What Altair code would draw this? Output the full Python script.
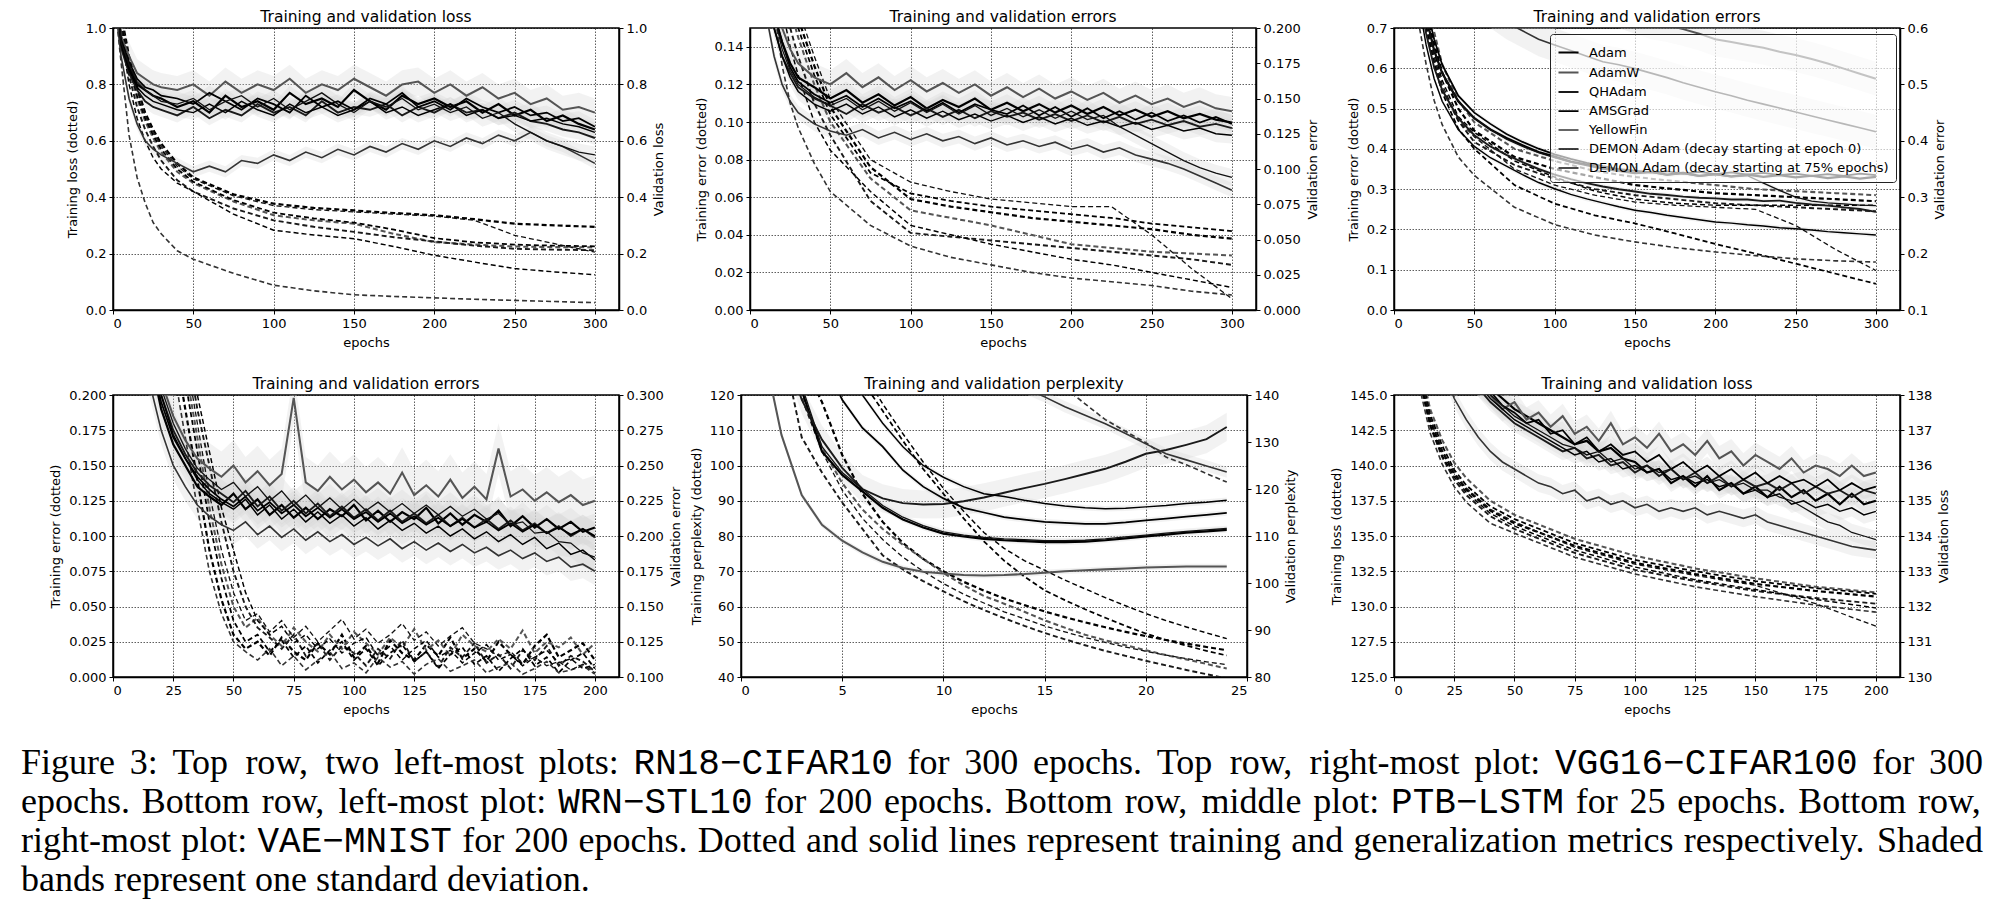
import altair as alt
import pandas as pd

# optimisers in legend order
OPT_KEYS = ["Adam", "AdamW", "QHAdam", "AMSGrad", "YF", "DEMON0", "DEMON75"]
OPT_LABELS = ["Adam", "AdamW", "QHAdam", "AMSGrad", "YellowFin",
              "DEMON Adam (decay starting at epoch 0)",
              "DEMON Adam (decay starting at 75% epochs)"]
OPT_GRAYS = ["#000000", "#555555", "#1a1a1a", "#000000", "#333333", "#000000", "#111111"]
OPT_WIDTHS = [2.2, 1.3, 1.7, 2.2, 1.3, 2.6, 1.4]

# ---------------- epochs ----------------
EP300_TRAIN = [1, 5, 10, 15, 20, 25, 30, 40, 50, 75, 100, 125, 150, 175, 200, 225, 250, 275, 300]
EP300_VAL = [1, 5, 10, 15, 20, 25, 30, 40, 50, 60, 70, 80, 90, 100, 110, 120, 130, 140, 150,
             160, 170, 180, 190, 200, 210, 220, 230, 240, 250, 260, 270, 280, 290, 300]
EP200 = [1, 5, 10, 15, 20, 25, 30, 35, 40, 45, 50, 55, 60, 65, 70, 75, 80, 85, 90, 95, 100,
         105, 110, 115, 120, 125, 130, 135, 140, 145, 150, 155, 160, 165, 170, 175, 180, 185,
         190, 195, 200]
EP200_TRAIN = [1, 5, 10, 15, 20, 25, 30, 40, 50, 75, 100, 125, 150, 175, 200]
EP25 = [1, 2, 3, 4, 5, 6, 7, 8, 9, 10, 11, 12, 13, 14, 15, 16, 17, 18, 19, 20, 21, 22, 23, 24]

# ---------------- RN18-CIFAR10 loss ----------------
P1_TRAIN = {
    "Adam": [1.30, 1.05, 0.90, 0.79, 0.70, 0.64, 0.59, 0.52, 0.47, 0.41, 0.377, 0.362, 0.353, 0.344, 0.336, 0.322, 0.306, 0.300, 0.295],
    "AdamW": [1.30, 1.02, 0.86, 0.75, 0.67, 0.61, 0.56, 0.49, 0.45, 0.385, 0.336, 0.318, 0.306, 0.27, 0.241, 0.232, 0.225, 0.223, 0.222],
    "QHAdam": [1.30, 1.00, 0.83, 0.72, 0.64, 0.58, 0.53, 0.46, 0.42, 0.36, 0.318, 0.295, 0.277, 0.258, 0.243, 0.228, 0.217, 0.214, 0.212],
    "AMSGrad": [1.30, 1.03, 0.87, 0.76, 0.68, 0.62, 0.57, 0.50, 0.455, 0.39, 0.345, 0.325, 0.31, 0.285, 0.255, 0.240, 0.232, 0.228, 0.226],
    "YF": [1.10, 0.88, 0.62, 0.47, 0.38, 0.31, 0.27, 0.21, 0.18, 0.13, 0.088, 0.068, 0.054, 0.048, 0.043, 0.038, 0.034, 0.030, 0.026],
    "DEMON0": [1.25, 0.98, 0.80, 0.68, 0.60, 0.54, 0.50, 0.45, 0.42, 0.34, 0.283, 0.266, 0.253, 0.225, 0.194, 0.17, 0.147, 0.135, 0.125],
    "DEMON75": [1.30, 1.04, 0.89, 0.78, 0.69, 0.63, 0.58, 0.51, 0.465, 0.405, 0.37, 0.356, 0.348, 0.34, 0.333, 0.318, 0.265, 0.235, 0.205],
}
P1_VAL = {
    "Adam": [1.20, 0.95, 0.86, 0.80, 0.78, 0.76, 0.75, 0.72, 0.74, 0.70, 0.76, 0.72, 0.74, 0.71, 0.77, 0.73, 0.75, 0.72, 0.78, 0.74, 0.71, 0.76, 0.73, 0.75, 0.72, 0.74, 0.70, 0.73, 0.69, 0.71, 0.67, 0.69, 0.66, 0.64],
    "AdamW": [1.20, 0.97, 0.90, 0.84, 0.82, 0.80, 0.79, 0.78, 0.80, 0.76, 0.81, 0.77, 0.80, 0.78, 0.82, 0.77, 0.80, 0.78, 0.82, 0.79, 0.76, 0.80, 0.81, 0.77, 0.80, 0.76, 0.79, 0.75, 0.77, 0.73, 0.75, 0.71, 0.72, 0.70],
    "QHAdam": [1.20, 0.93, 0.84, 0.78, 0.74, 0.72, 0.71, 0.69, 0.72, 0.68, 0.71, 0.69, 0.73, 0.70, 0.72, 0.69, 0.74, 0.70, 0.72, 0.71, 0.73, 0.69, 0.72, 0.70, 0.73, 0.70, 0.71, 0.68, 0.70, 0.67, 0.66, 0.64, 0.63, 0.61],
    "AMSGrad": [1.20, 0.96, 0.88, 0.82, 0.79, 0.78, 0.76, 0.75, 0.73, 0.77, 0.74, 0.71, 0.75, 0.73, 0.70, 0.76, 0.72, 0.74, 0.71, 0.75, 0.73, 0.77, 0.72, 0.74, 0.71, 0.75, 0.72, 0.70, 0.72, 0.69, 0.70, 0.67, 0.68, 0.65],
    "YF": [1.10, 0.90, 0.75, 0.66, 0.60, 0.57, 0.55, 0.52, 0.49, 0.51, 0.49, 0.53, 0.52, 0.55, 0.53, 0.56, 0.54, 0.57, 0.55, 0.58, 0.56, 0.59, 0.57, 0.60, 0.58, 0.61, 0.59, 0.62, 0.60, 0.63, 0.60, 0.58, 0.55, 0.52],
    "DEMON0": [1.20, 0.94, 0.85, 0.79, 0.76, 0.74, 0.73, 0.71, 0.70, 0.73, 0.70, 0.74, 0.71, 0.69, 0.73, 0.70, 0.72, 0.69, 0.71, 0.74, 0.70, 0.72, 0.69, 0.71, 0.73, 0.69, 0.71, 0.68, 0.69, 0.67, 0.68, 0.66, 0.65, 0.63],
    "DEMON75": [1.20, 0.95, 0.87, 0.81, 0.78, 0.76, 0.74, 0.73, 0.75, 0.71, 0.74, 0.76, 0.72, 0.75, 0.71, 0.74, 0.77, 0.73, 0.70, 0.74, 0.72, 0.75, 0.71, 0.73, 0.70, 0.72, 0.68, 0.70, 0.66, 0.63, 0.60, 0.58, 0.56, 0.55],
}
P1_SD = {"Adam": 0.025, "AdamW": 0.05, "QHAdam": 0.025, "AMSGrad": 0.025, "YF": 0.02, "DEMON0": 0.025, "DEMON75": 0.03}

# ---------------- RN18-CIFAR10 errors ----------------
P2_TRAIN = {
    "Adam": [0.60, 0.38, 0.27, 0.22, 0.19, 0.17, 0.155, 0.13, 0.108, 0.076, 0.059, 0.055, 0.052, 0.049, 0.047, 0.045, 0.043, 0.040, 0.038],
    "AdamW": [0.60, 0.37, 0.26, 0.21, 0.18, 0.16, 0.145, 0.12, 0.10, 0.07, 0.053, 0.049, 0.045, 0.04, 0.035, 0.033, 0.031, 0.030, 0.029],
    "QHAdam": [0.60, 0.36, 0.25, 0.20, 0.17, 0.15, 0.135, 0.11, 0.093, 0.058, 0.041, 0.039, 0.037, 0.035, 0.033, 0.031, 0.029, 0.027, 0.024],
    "AMSGrad": [0.60, 0.38, 0.27, 0.22, 0.185, 0.165, 0.15, 0.125, 0.104, 0.073, 0.062, 0.058, 0.055, 0.053, 0.051, 0.049, 0.046, 0.044, 0.042],
    "YF": [0.60, 0.32, 0.21, 0.16, 0.13, 0.11, 0.097, 0.078, 0.063, 0.045, 0.034, 0.028, 0.024, 0.020, 0.017, 0.015, 0.013, 0.010, 0.008],
    "DEMON0": [0.60, 0.35, 0.24, 0.19, 0.16, 0.14, 0.125, 0.10, 0.085, 0.063, 0.045, 0.040, 0.035, 0.031, 0.027, 0.024, 0.020, 0.016, 0.012],
    "DEMON75": [0.60, 0.39, 0.28, 0.23, 0.195, 0.175, 0.16, 0.135, 0.112, 0.08, 0.068, 0.063, 0.059, 0.057, 0.055, 0.055, 0.040, 0.022, 0.006],
}
P2_VAL = {
    "Adam": [0.40, 0.30, 0.24, 0.21, 0.19, 0.175, 0.165, 0.158, 0.150, 0.156, 0.147, 0.153, 0.145, 0.151, 0.143, 0.149, 0.144, 0.150, 0.142, 0.147, 0.141, 0.146, 0.140, 0.145, 0.139, 0.144, 0.138, 0.142, 0.137, 0.141, 0.136, 0.139, 0.135, 0.133],
    "AdamW": [0.40, 0.31, 0.25, 0.22, 0.20, 0.185, 0.175, 0.165, 0.160, 0.168, 0.158, 0.165, 0.156, 0.163, 0.155, 0.161, 0.154, 0.160, 0.152, 0.158, 0.151, 0.157, 0.150, 0.155, 0.149, 0.154, 0.147, 0.152, 0.146, 0.150, 0.144, 0.148, 0.143, 0.141],
    "QHAdam": [0.40, 0.29, 0.23, 0.20, 0.18, 0.168, 0.158, 0.150, 0.145, 0.139, 0.146, 0.140, 0.144, 0.138, 0.143, 0.137, 0.142, 0.136, 0.141, 0.137, 0.140, 0.135, 0.139, 0.134, 0.138, 0.133, 0.137, 0.132, 0.135, 0.131, 0.134, 0.130, 0.132, 0.129],
    "AMSGrad": [0.40, 0.30, 0.24, 0.21, 0.19, 0.172, 0.162, 0.153, 0.147, 0.152, 0.144, 0.150, 0.143, 0.148, 0.141, 0.147, 0.140, 0.146, 0.142, 0.139, 0.145, 0.138, 0.144, 0.137, 0.143, 0.136, 0.141, 0.135, 0.140, 0.134, 0.138, 0.133, 0.137, 0.132],
    "YF": [0.40, 0.27, 0.21, 0.18, 0.16, 0.148, 0.140, 0.132, 0.127, 0.124, 0.128, 0.122, 0.126, 0.121, 0.125, 0.120, 0.123, 0.118, 0.122, 0.117, 0.120, 0.116, 0.119, 0.114, 0.117, 0.112, 0.115, 0.110, 0.107, 0.104, 0.100, 0.095, 0.090, 0.085],
    "DEMON0": [0.40, 0.29, 0.23, 0.20, 0.18, 0.165, 0.155, 0.146, 0.141, 0.146, 0.139, 0.144, 0.137, 0.142, 0.136, 0.141, 0.135, 0.139, 0.134, 0.138, 0.133, 0.137, 0.132, 0.136, 0.131, 0.134, 0.130, 0.133, 0.128, 0.131, 0.127, 0.129, 0.125, 0.124],
    "DEMON75": [0.40, 0.30, 0.24, 0.21, 0.185, 0.17, 0.16, 0.151, 0.145, 0.150, 0.142, 0.148, 0.141, 0.147, 0.140, 0.146, 0.139, 0.145, 0.138, 0.143, 0.137, 0.142, 0.136, 0.141, 0.135, 0.138, 0.130, 0.124, 0.118, 0.112, 0.106, 0.101, 0.097, 0.094],
}
P2_SD = {"Adam": 0.006, "AdamW": 0.01, "QHAdam": 0.006, "AMSGrad": 0.006, "YF": 0.005, "DEMON0": 0.006, "DEMON75": 0.006}

# ---------------- VGG16-CIFAR100 errors ----------------
P3_TRAIN = {
    "Adam": [0.99, 0.97, 0.92, 0.84, 0.75, 0.66, 0.59, 0.50, 0.445, 0.38, 0.35, 0.33, 0.31, 0.30, 0.29, 0.285, 0.28, 0.275, 0.27],
    "AdamW": [0.99, 0.97, 0.93, 0.86, 0.77, 0.69, 0.61, 0.52, 0.466, 0.40, 0.37, 0.345, 0.33, 0.32, 0.31, 0.30, 0.295, 0.29, 0.285],
    "QHAdam": [0.99, 0.96, 0.90, 0.81, 0.71, 0.62, 0.55, 0.47, 0.417, 0.36, 0.326, 0.30, 0.285, 0.275, 0.265, 0.26, 0.255, 0.25, 0.245],
    "AMSGrad": [0.99, 0.96, 0.89, 0.80, 0.70, 0.61, 0.54, 0.45, 0.40, 0.31, 0.264, 0.235, 0.215, 0.19, 0.164, 0.14, 0.115, 0.09, 0.065],
    "YF": [0.99, 0.95, 0.85, 0.72, 0.61, 0.52, 0.46, 0.38, 0.334, 0.255, 0.212, 0.186, 0.169, 0.155, 0.144, 0.135, 0.127, 0.122, 0.119],
    "DEMON0": [0.99, 0.97, 0.91, 0.83, 0.73, 0.64, 0.57, 0.48, 0.441, 0.37, 0.33, 0.295, 0.275, 0.265, 0.26, 0.26, 0.26, 0.26, 0.26],
    "DEMON75": [0.99, 0.96, 0.91, 0.82, 0.72, 0.63, 0.56, 0.47, 0.43, 0.35, 0.31, 0.285, 0.268, 0.26, 0.255, 0.25, 0.21, 0.15, 0.098],
}
P3_VAL = {
    "Adam": [0.95, 0.90, 0.80, 0.70, 0.62, 0.56, 0.52, 0.47, 0.44, 0.42, 0.405, 0.392, 0.380, 0.372, 0.363, 0.358, 0.351, 0.348, 0.343, 0.345, 0.340, 0.343, 0.338, 0.341, 0.337, 0.340, 0.336, 0.339, 0.335, 0.338, 0.334, 0.337, 0.333, 0.336],
    "AdamW": [0.99, 0.99, 0.97, 0.95, 0.92, 0.89, 0.86, 0.82, 0.79, 0.76, 0.74, 0.72, 0.70, 0.68, 0.665, 0.65, 0.64, 0.63, 0.62, 0.61, 0.605, 0.598, 0.59, 0.58, 0.575, 0.57, 0.565, 0.558, 0.552, 0.545, 0.537, 0.528, 0.519, 0.51],
    "QHAdam": [0.95, 0.88, 0.77, 0.67, 0.59, 0.53, 0.49, 0.44, 0.41, 0.39, 0.375, 0.362, 0.350, 0.340, 0.332, 0.325, 0.319, 0.314, 0.310, 0.306, 0.304, 0.301, 0.299, 0.298, 0.296, 0.296, 0.293, 0.294, 0.290, 0.287, 0.285, 0.282, 0.279, 0.274],
    "AMSGrad": [0.95, 0.91, 0.82, 0.72, 0.64, 0.58, 0.535, 0.48, 0.45, 0.43, 0.412, 0.398, 0.386, 0.376, 0.368, 0.361, 0.355, 0.350, 0.347, 0.344, 0.346, 0.342, 0.345, 0.341, 0.344, 0.340, 0.343, 0.339, 0.342, 0.338, 0.341, 0.338, 0.342, 0.339],
    "YF": [0.99, 0.98, 0.95, 0.90, 0.85, 0.80, 0.76, 0.70, 0.66, 0.63, 0.61, 0.595, 0.58, 0.57, 0.56, 0.55, 0.54, 0.535, 0.528, 0.52, 0.512, 0.503, 0.495, 0.487, 0.48, 0.472, 0.465, 0.458, 0.451, 0.444, 0.437, 0.43, 0.423, 0.416],
    "DEMON0": [0.95, 0.87, 0.75, 0.65, 0.57, 0.51, 0.47, 0.42, 0.39, 0.37, 0.355, 0.34, 0.326, 0.315, 0.305, 0.297, 0.29, 0.283, 0.277, 0.273, 0.268, 0.264, 0.26, 0.256, 0.254, 0.251, 0.249, 0.246, 0.244, 0.242, 0.239, 0.237, 0.235, 0.233],
    "DEMON75": [0.95, 0.90, 0.80, 0.70, 0.62, 0.56, 0.52, 0.47, 0.44, 0.42, 0.403, 0.39, 0.379, 0.37, 0.362, 0.356, 0.35, 0.346, 0.342, 0.344, 0.339, 0.342, 0.337, 0.340, 0.336, 0.338, 0.325, 0.312, 0.300, 0.293, 0.290, 0.288, 0.286, 0.285],
}
P3_SD = {"Adam": 0.004, "AdamW": 0.03, "QHAdam": 0.004, "AMSGrad": 0.004, "YF": 0.03, "DEMON0": 0.004, "DEMON75": 0.004}

# ---------------- WRN-STL10 errors ----------------
P4_TRAIN = {
    "Adam": [0.90, 0.70, 0.50, 0.38, 0.30, 0.24, 0.19, 0.14, 0.09, 0.055, 0.03, 0.02, 0.025, 0.015, 0.028, 0.018, 0.012, 0.024, 0.016, 0.030, 0.014, 0.022, 0.010, 0.026, 0.017, 0.012, 0.023, 0.015, 0.028, 0.013, 0.020, 0.011, 0.025, 0.016, 0.009, 0.022, 0.030, 0.014, 0.019, 0.024, 0.012],
    "AdamW": [0.90, 0.72, 0.53, 0.41, 0.33, 0.27, 0.22, 0.17, 0.12, 0.08, 0.05, 0.035, 0.042, 0.03, 0.022, 0.035, 0.025, 0.018, 0.03, 0.02, 0.032, 0.024, 0.016, 0.028, 0.021, 0.034, 0.019, 0.026, 0.015, 0.03, 0.022, 0.018, 0.027, 0.02, 0.033, 0.017, 0.025, 0.021, 0.028, 0.016, 0.024],
    "QHAdam": [0.90, 0.72, 0.54, 0.43, 0.35, 0.29, 0.24, 0.19, 0.15, 0.11, 0.075, 0.05, 0.035, 0.028, 0.02, 0.03, 0.015, 0.024, 0.012, 0.022, 0.017, 0.008, 0.02, 0.013, 0.026, 0.011, 0.018, 0.007, 0.021, 0.014, 0.024, 0.01, 0.016, 0.006, 0.019, 0.012, 0.022, 0.008, 0.015, 0.011, 0.004],
    "AMSGrad": [0.90, 0.71, 0.52, 0.40, 0.32, 0.26, 0.21, 0.16, 0.11, 0.07, 0.04, 0.025, 0.03, 0.018, 0.026, 0.014, 0.022, 0.01, 0.019, 0.025, 0.012, 0.02, 0.008, 0.017, 0.023, 0.011, 0.018, 0.006, 0.016, 0.021, 0.009, 0.015, 0.004, 0.013, 0.02, 0.008, 0.014, 0.003, 0.012, 0.017, 0.006],
    "YF": [0.90, 0.68, 0.48, 0.36, 0.28, 0.22, 0.17, 0.12, 0.075, 0.045, 0.025, 0.018, 0.012, 0.02, 0.008, 0.015, 0.005, 0.012, 0.018, 0.006, 0.01, 0.003, 0.014, 0.007, 0.011, 0.002, 0.009, 0.013, 0.004, 0.008, 0.012, 0.003, 0.007, 0.01, 0.002, 0.006, 0.011, 0.003, 0.005, 0.008, 0.002],
    "DEMON0": [0.90, 0.73, 0.55, 0.44, 0.36, 0.30, 0.25, 0.20, 0.16, 0.12, 0.09, 0.06, 0.04, 0.03, 0.036, 0.024, 0.03, 0.02, 0.027, 0.017, 0.024, 0.028, 0.015, 0.022, 0.012, 0.02, 0.026, 0.014, 0.019, 0.01, 0.017, 0.023, 0.012, 0.016, 0.008, 0.014, 0.019, 0.01, 0.013, 0.006, 0.009],
    "DEMON75": [0.90, 0.72, 0.54, 0.42, 0.34, 0.28, 0.23, 0.18, 0.13, 0.09, 0.06, 0.04, 0.045, 0.032, 0.04, 0.028, 0.036, 0.025, 0.033, 0.041, 0.027, 0.034, 0.024, 0.03, 0.038, 0.026, 0.032, 0.022, 0.029, 0.035, 0.024, 0.02, 0.015, 0.018, 0.01, 0.014, 0.008, 0.011, 0.005, 0.009, 0.003],
}
P4_VAL = {
    "Adam": [0.60, 0.50, 0.40, 0.33, 0.29, 0.265, 0.25, 0.235, 0.228, 0.222, 0.230, 0.219, 0.226, 0.215, 0.222, 0.213, 0.220, 0.212, 0.219, 0.214, 0.222, 0.211, 0.218, 0.210, 0.217, 0.212, 0.220, 0.209, 0.216, 0.208, 0.215, 0.210, 0.218, 0.207, 0.214, 0.206, 0.212, 0.205, 0.210, 0.203, 0.206],
    "AdamW": [0.60, 0.52, 0.42, 0.35, 0.31, 0.285, 0.268, 0.255, 0.248, 0.242, 0.250, 0.238, 0.246, 0.236, 0.244, 0.298, 0.238, 0.232, 0.242, 0.233, 0.240, 0.231, 0.238, 0.230, 0.245, 0.229, 0.236, 0.228, 0.240, 0.227, 0.235, 0.226, 0.262, 0.228, 0.233, 0.225, 0.231, 0.224, 0.229, 0.222, 0.225],
    "QHAdam": [0.60, 0.51, 0.41, 0.34, 0.30, 0.275, 0.258, 0.245, 0.236, 0.230, 0.224, 0.232, 0.221, 0.228, 0.218, 0.225, 0.216, 0.223, 0.214, 0.221, 0.213, 0.219, 0.211, 0.218, 0.210, 0.216, 0.209, 0.215, 0.207, 0.213, 0.206, 0.212, 0.205, 0.211, 0.204, 0.209, 0.202, 0.207, 0.200, 0.205, 0.199],
    "AMSGrad": [0.60, 0.50, 0.40, 0.33, 0.295, 0.27, 0.255, 0.242, 0.233, 0.226, 0.221, 0.228, 0.218, 0.224, 0.216, 0.222, 0.214, 0.220, 0.213, 0.219, 0.212, 0.217, 0.210, 0.216, 0.209, 0.214, 0.208, 0.213, 0.207, 0.212, 0.206, 0.210, 0.204, 0.209, 0.203, 0.208, 0.202, 0.206, 0.201, 0.205, 0.200],
    "YF": [0.60, 0.48, 0.38, 0.31, 0.275, 0.25, 0.235, 0.222, 0.214, 0.208, 0.204, 0.210, 0.201, 0.207, 0.199, 0.205, 0.197, 0.203, 0.196, 0.201, 0.194, 0.199, 0.193, 0.198, 0.191, 0.196, 0.190, 0.195, 0.189, 0.194, 0.188, 0.192, 0.186, 0.190, 0.184, 0.188, 0.182, 0.185, 0.178, 0.180, 0.175],
    "DEMON0": [0.60, 0.50, 0.41, 0.34, 0.30, 0.272, 0.255, 0.240, 0.230, 0.224, 0.219, 0.226, 0.215, 0.222, 0.212, 0.219, 0.210, 0.217, 0.209, 0.215, 0.207, 0.213, 0.205, 0.211, 0.204, 0.209, 0.202, 0.207, 0.200, 0.205, 0.198, 0.203, 0.196, 0.201, 0.194, 0.199, 0.191, 0.195, 0.187, 0.190, 0.183],
    "DEMON75": [0.60, 0.51, 0.42, 0.35, 0.305, 0.28, 0.262, 0.248, 0.240, 0.233, 0.238, 0.228, 0.235, 0.225, 0.232, 0.222, 0.229, 0.220, 0.227, 0.219, 0.226, 0.218, 0.224, 0.217, 0.223, 0.216, 0.222, 0.215, 0.221, 0.214, 0.219, 0.212, 0.216, 0.208, 0.210, 0.202, 0.203, 0.196, 0.195, 0.188, 0.185],
}
P4_SD = {"Adam": 0.01, "AdamW": 0.018, "QHAdam": 0.01, "AMSGrad": 0.01, "YF": 0.01, "DEMON0": 0.01, "DEMON75": 0.01}

# ---------------- PTB-LSTM perplexity ----------------
P5_TRAIN = {
    "Adam": [175, 150, 130, 118, 103, 92, 84, 78, 73.5, 70, 67, 64.5, 62.3, 60.4, 58.6, 57, 55.5, 54.1, 52.8, 51.6, 50.5, 49.5, 48.5, 47.6],
    "AdamW": [170, 140, 120, 105, 95, 87.5, 82, 77.5, 73.5, 69.5, 66, 63, 60.8, 58.5, 56.1, 54, 52, 50.4, 49, 47.6, 46.2, 45, 43.7, 42.4],
    "QHAdam": [160, 135, 108, 98, 89.5, 82, 74.5, 70.5, 67.2, 64.3, 61.5, 59, 56.7, 54.5, 52.5, 50.7, 49, 47.4, 46, 44.6, 43.3, 42, 40.8, 39.6],
    "AMSGrad": [200, 185, 168, 150, 136, 124, 115.5, 107, 99, 92, 85, 78.5, 73, 68.5, 64.6, 61.8, 59.2, 56.8, 54.5, 52.3, 50.5, 48.9, 47.4, 46.1],
    "YF": [300, 280, 262, 245, 230, 216, 204, 192, 181, 170, 158, 150, 142, 135, 128, 122, 117.5, 113, 109.7, 106.5, 102.4, 100.2, 97.7, 95.3],
    "DEMON0": [198, 182, 166, 150, 138, 127, 117.5, 109, 101, 93.5, 87, 81, 76.5, 73, 70.3, 67.5, 65, 62.5, 60.2, 58, 56, 54.2, 52.5, 50.9],
    "DEMON75": [165, 138, 119, 104, 93, 85, 79, 74, 70, 66.5, 63.5, 61, 58.5, 56.5, 54.5, 52.8, 51.2, 49.8, 48.5, 47.3, 46.2, 45.2, 44.3, 43.5],
}
P5_VAL = {
    "Adam": [175, 158, 141, 128, 123, 119.5, 116, 113.5, 111.8, 110.5, 109.9, 109.4, 109.1, 108.9, 108.7, 108.7, 108.8, 109.1, 109.5, 109.9, 110.3, 110.7, 111, 111.3],
    "AdamW": [152, 131.5, 118.7, 112.4, 109, 106.5, 104.5, 103.2, 102.4, 102, 101.7, 101.6, 101.7, 101.9, 102.2, 102.5, 102.7, 102.9, 103.1, 103.3, 103.4, 103.5, 103.5, 103.5],
    "QHAdam": [165, 152, 139, 130.5, 124.5, 120, 118, 117, 116.7, 116.8, 117.4, 118.2, 119.2, 120.2, 121.1, 122.1, 123.2, 124.3, 125.8, 127.5, 128.3, 129.4, 130.6, 133.2],
    "AMSGrad": [190, 175, 160, 148, 139, 133, 129, 124, 120.5, 118, 116, 115, 114, 113.5, 113, 112.8, 112.6, 112.6, 112.9, 113.3, 113.7, 114.1, 114.5, 114.9],
    "YF": [260, 240, 222, 206, 192, 180, 170, 162, 156, 151, 147, 144.5, 143, 141.5, 139.6, 137.5, 135.7, 133.9, 131.8, 129.6, 127.5, 126.2, 124.9, 123.6],
    "DEMON0": [200, 185, 170, 158, 148, 140, 134, 129, 125, 122.5, 120.5, 119, 118.4, 117.6, 116.9, 116.4, 116, 115.8, 115.9, 116.2, 116.5, 116.9, 117.2, 117.6],
    "DEMON75": [176, 159, 142, 129, 123.5, 120, 116.5, 114, 112.2, 110.9, 110.2, 109.7, 109.4, 109.2, 109.0, 109.0, 109.1, 109.4, 109.8, 110.2, 110.6, 111.0, 111.3, 111.6],
}
P5_SD = {"Adam": 0.6, "AdamW": 0.6, "QHAdam": 3.0, "AMSGrad": 0.6, "YF": 1.2, "DEMON0": 0.6, "DEMON75": 0.6}

# ---------------- VAE-MNIST loss ----------------
P6_TRAIN = {
    "Adam": [175, 151, 147.0, 143.2, 141.0, 139.4, 138.3, 136.8, 135.9, 134.3, 133.1, 132.3, 131.6, 131.1, 130.7],
    "AdamW": [175, 152, 147.8, 144.0, 141.8, 140.2, 139.1, 137.5, 136.5, 134.8, 133.6, 132.7, 132.0, 131.4, 131.0],
    "QHAdam": [175, 150, 146.5, 142.8, 140.6, 139.0, 137.9, 136.4, 135.5, 133.8, 132.6, 131.8, 131.1, 130.6, 130.2],
    "AMSGrad": [175, 151, 147.4, 143.6, 141.4, 139.7, 138.6, 137.1, 136.2, 134.5, 133.3, 132.5, 131.8, 131.3, 130.9],
    "YF": [175, 149, 146.0, 142.3, 140.1, 138.5, 137.4, 135.9, 135.2, 133.5, 132.3, 131.4, 130.7, 130.1, 129.6],
    "DEMON0": [175, 150, 146.7, 142.9, 140.7, 139.2, 138.1, 136.6, 135.7, 134.0, 132.8, 131.9, 131.2, 130.5, 129.9],
    "DEMON75": [175, 151, 147.2, 143.4, 141.1, 139.5, 138.4, 136.9, 136.0, 134.2, 133.0, 132.2, 131.5, 130.2, 128.6],
}
P6_VAL = {
    "Adam": [150, 146, 143, 141.5, 140.3, 139.5, 138.9, 138.5, 138.2, 137.9, 137.6, 137.4, 137.2, 137.0, 136.8, 136.6, 136.7, 136.4, 136.5, 136.2, 136.1, 135.8, 135.9, 135.5, 135.7, 135.4, 135.7, 135.3, 135.5, 135.2, 135.4, 135.1, 135.4, 135.1, 135.3, 135.0, 135.2, 134.9, 135.2, 134.9, 135.0],
    "AdamW": [151, 147, 144, 142, 140.5, 139.6, 139.0, 138.3, 138.0, 137.6, 137.8, 137.3, 137.5, 137.1, 137.4, 136.9, 137.1, 136.7, 137.2, 136.6, 136.8, 136.5, 136.9, 136.4, 136.6, 136.3, 136.7, 136.2, 136.4, 136.0, 136.3, 136.1, 135.9, 136.2, 135.8, 136.0, 135.9, 135.7, 136.0, 135.7, 135.8],
    "QHAdam": [150, 146, 143, 141.3, 140.1, 139.3, 138.7, 138.2, 137.8, 137.5, 137.2, 137.0, 136.8, 136.6, 136.4, 136.5, 136.2, 136.3, 136.0, 136.1, 135.8, 136.0, 135.7, 135.9, 135.6, 135.8, 135.5, 135.7, 135.4, 135.6, 135.4, 135.5, 135.3, 135.5, 135.2, 135.4, 135.2, 135.3, 135.1, 135.3, 135.2],
    "AMSGrad": [150, 146, 143, 141.6, 140.4, 139.6, 139.0, 138.5, 138.1, 137.7, 137.5, 137.2, 137.3, 136.9, 137.0, 136.6, 136.8, 136.4, 136.6, 136.3, 136.4, 136.1, 136.3, 135.9, 136.1, 135.8, 136.0, 135.7, 135.9, 135.6, 135.8, 135.5, 135.7, 135.5, 135.6, 135.4, 135.6, 135.3, 135.5, 135.3, 135.4],
    "YF": [149, 145, 142, 140, 138.8, 137.9, 137.3, 136.8, 136.4, 136.1, 135.9, 135.7, 135.5, 135.4, 135.2, 135.3, 135.0, 135.1, 134.9, 135.0, 134.8, 134.9, 134.7, 134.8, 134.7, 134.8, 134.6, 134.7, 134.6, 134.5, 134.6, 134.4, 134.3, 134.2, 134.1, 134.0, 133.9, 133.8, 133.7, 133.65, 133.6],
    "DEMON0": [150, 146, 143, 141.4, 140.2, 139.4, 138.8, 138.3, 137.9, 137.6, 137.3, 137.1, 136.9, 136.7, 136.5, 136.3, 136.4, 136.1, 136.2, 135.9, 136.0, 135.8, 135.9, 135.6, 135.7, 135.5, 135.6, 135.4, 135.5, 135.2, 135.3, 135.1, 135.2, 134.9, 135.0, 134.8, 134.9, 134.7, 134.8, 134.6, 134.7],
    "DEMON75": [150, 146, 143, 141.5, 140.3, 139.5, 138.9, 138.4, 138.0, 137.7, 137.4, 137.2, 137.0, 136.8, 136.6, 136.5, 136.3, 136.4, 136.1, 136.2, 135.9, 136.0, 135.8, 135.9, 135.6, 135.7, 135.5, 135.6, 135.4, 135.5, 135.3, 135.3, 135.1, 135.0, 134.8, 134.6, 134.4, 134.3, 134.1, 134.0, 133.9],
}
P6_SD = {"Adam": 0.25, "AdamW": 0.35, "QHAdam": 0.25, "AMSGrad": 0.25, "YF": 0.25, "DEMON0": 0.25, "DEMON75": 0.25}

# ---------------- caption: lines, `...` = typewriter ----------------
CAPTION_LINES = [
    "Figure 3: Top row, two left-most plots: `RN18\u2212CIFAR10` for 300 epochs. Top row, right-most plot: `VGG16\u2212CIFAR100` for 300",
    "epochs. Bottom row, left-most plot: `WRN\u2212STL10` for 200 epochs. Bottom row, middle plot: `PTB\u2212LSTM` for 25 epochs. Bottom row,",
    "right-most plot: `VAE\u2212MNIST` for 200 epochs. Dotted and solid lines represent training and generalization metrics respectively. Shaded",
    "bands represent one standard deviation.",
]
CAP_BASELINES = [772, 811, 850, 889]   # page y of each baseline
CAP_LEFT, CAP_RIGHT = 20, 1982          # justified text block
CAP_SIZE = 36
CAP_X0 = 112   # page x of the caption view origin (= left plot edge)
CAP_Y0 = 741   # page y of the caption view top

# Times advance widths (per 1000 em), used to justify the caption lines
TIMES_W = dict(zip(
    "ABCDEFGHIJKLMNOPQRSTUVWXYZabcdefghijklmnopqrstuvwxyz0123456789,.:-()%",
    [722, 667, 667, 722, 611, 556, 722, 722, 333, 389, 722, 611, 889, 722, 722, 556, 722,
     667, 556, 611, 722, 722, 944, 722, 722, 611,
     444, 500, 444, 500, 444, 333, 500, 500, 278, 278, 500, 278, 778, 500, 500, 500, 500,
     333, 389, 278, 500, 500, 722, 500, 500, 444,
     500, 500, 500, 500, 500, 500, 500, 500, 500, 500,
     250, 250, 278, 333, 333, 333, 833]))

PANEL_W = 506
PANEL_H = 282


def long_table(epochs, series, sd=None):
    rows = []
    for key, label in zip(OPT_KEYS, OPT_LABELS):
        vals = series[key]
        assert len(vals) == len(epochs), (key, len(vals), len(epochs))
        for e, v in zip(epochs, vals):
            row = {"epoch": e, "value": v, "opt": label}
            if sd is not None:
                row["sd"] = sd[key]
            rows.append(row)
    return pd.DataFrame(rows)


def panel(title, ep_train, train, ep_val, val, sd, xdom, xticks,
          ldom, lticks, lfmt, ltitle, rdom, rticks, rfmt, rtitle,
          legend=None, reach_left=None):
    x = alt.X("epoch:Q", scale=alt.Scale(domain=xdom, nice=False, zero=False),
              axis=alt.Axis(values=xticks, format="d", title="epochs", grid=True))
    color = alt.Color("opt:N", scale=alt.Scale(domain=OPT_LABELS, range=OPT_GRAYS),
                      legend=legend)
    width = alt.StrokeWidth("opt:N", scale=alt.Scale(domain=OPT_LABELS, range=OPT_WIDTHS),
                            legend=None)
    rscale = alt.Scale(domain=rdom, nice=False, zero=False)

    vdf = long_table(ep_val, val, sd)
    tdf = long_table(ep_train, train)

    # shaded std bands round the validation curves
    bands = alt.Chart(vdf).transform_calculate(
        lo="datum.value - datum.sd", hi="datum.value + datum.sd"
    ).mark_area(clip=True, color="#d4d4d4", opacity=0.3).encode(
        x=x,
        y=alt.Y("lo:Q", scale=rscale, axis=None, stack=None),
        y2="hi:Q",
        detail="opt:N",
    )
    train_lines = alt.Chart(tdf).mark_line(clip=True, strokeDash=[5, 3]).encode(
        x=x,
        y=alt.Y("value:Q", scale=alt.Scale(domain=ldom, nice=False, zero=False),
                axis=alt.Axis(values=lticks, format=lfmt, title=ltitle, orient="left",
                              grid=True)),
        color=color,
        strokeWidth=width,
    )
    val_lines = alt.Chart(vdf).mark_line(clip=True).encode(
        x=x,
        y=alt.Y("value:Q", scale=rscale,
                axis=alt.Axis(values=rticks, format=rfmt, title=rtitle, orient="right",
                              grid=False, titleAngle=270, titleBaseline="top")),
        color=color,
        strokeWidth=width,
    )
    layers = [bands, train_lines, val_lines]
    if reach_left is not None:
        # invisible rule: keeps the row's left edge level with the caption
        layers.append(alt.Chart(pd.DataFrame({"k": [0]})).mark_rule(strokeOpacity=0).encode(
            x=alt.value(-reach_left), x2=alt.value(-reach_left + 1), y=alt.value(0)))
    return alt.layer(*layers).resolve_scale(
        y="independent"
    ).properties(width=PANEL_W, height=PANEL_H, title=title)


def indep(chart):
    return chart.resolve_scale(color="independent", strokeWidth="independent") \
                .resolve_legend(color="independent", strokeWidth="independent")


legend = alt.Legend(orient="none", legendX=156, legendY=6, title=None,
                    symbolType="stroke", symbolSize=400, symbolStrokeWidth=2.2,
                    symbolDash=[1, 0], labelFont="DejaVu Sans", labelFontSize=13,
                    labelColor="black", labelLimit=400, labelOffset=9, rowPadding=1,
                    padding=7, strokeColor="#222222",
                    fillColor="rgba(255,255,255,0.65)", cornerRadius=3)

X300 = [0, 50, 100, 150, 200, 250, 300]
X200 = [0, 25, 50, 75, 100, 125, 150, 175, 200]

p1 = panel("Training and validation loss", EP300_TRAIN, P1_TRAIN, EP300_VAL, P1_VAL, P1_SD,
           [0, 315], X300,
           [0, 1], [0, 0.2, 0.4, 0.6, 0.8, 1.0], ".1f", "Training loss (dotted)",
           [0, 1], [0, 0.2, 0.4, 0.6, 0.8, 1.0], ".1f", "Validation loss",
           reach_left=92)
p2 = panel("Training and validation errors", EP300_TRAIN, P2_TRAIN, EP300_VAL, P2_VAL, P2_SD,
           [0, 315], X300,
           [0, 0.15], [0, 0.02, 0.04, 0.06, 0.08, 0.10, 0.12, 0.14], ".2f", "Training error (dotted)",
           [0, 0.2], [0, 0.025, 0.05, 0.075, 0.1, 0.125, 0.15, 0.175, 0.2], ".3f", "Validation error")
p3 = panel("Training and validation errors", EP300_TRAIN, P3_TRAIN, EP300_VAL, P3_VAL, P3_SD,
           [0, 315], X300,
           [0, 0.7], [0, 0.1, 0.2, 0.3, 0.4, 0.5, 0.6, 0.7], ".1f", "Training error (dotted)",
           [0.1, 0.6], [0.1, 0.2, 0.3, 0.4, 0.5, 0.6], ".1f", "Validation error",
           legend=legend)
p4 = panel("Training and validation errors", EP200, P4_TRAIN, EP200, P4_VAL, P4_SD,
           [0, 210], X200,
           [0, 0.2], [0, 0.025, 0.05, 0.075, 0.1, 0.125, 0.15, 0.175, 0.2], ".3f", "Training error (dotted)",
           [0.1, 0.3], [0.1, 0.125, 0.15, 0.175, 0.2, 0.225, 0.25, 0.275, 0.3], ".3f", "Validation error",
           reach_left=92)
p5 = panel("Training and validation perplexity", EP25, P5_TRAIN, EP25, P5_VAL, P5_SD,
           [0, 25], [0, 5, 10, 15, 20, 25],
           [40, 120], [40, 50, 60, 70, 80, 90, 100, 110, 120], "d", "Training perplexity (dotted)",
           [80, 140], [80, 90, 100, 110, 120, 130, 140], "d", "Validation perplexity")
p6 = panel("Training and validation loss", EP200_TRAIN, P6_TRAIN, EP200, P6_VAL, P6_SD,
           [0, 210], X200,
           [125, 145], [125, 127.5, 130, 132.5, 135, 137.5, 140, 142.5, 145], ".1f", "Training loss (dotted)",
           [130, 138], [130, 131, 132, 133, 134, 135, 136, 137, 138], "d", "Validation loss")

row1 = indep(alt.hconcat(indep(alt.hconcat(p1, p2, spacing=27)), p3, spacing=26))
row2 = indep(alt.hconcat(indep(alt.hconcat(p4, p5, spacing=6)), p6, spacing=31))


# caption: words placed one by one so that the first three lines are justified
def caption_words():
    serif, mono = [], []
    for i, (line, base) in enumerate(zip(CAPTION_LINES, CAP_BASELINES)):
        words = []
        for j, part in enumerate(line.split("`")):
            for w in part.split():
                is_mono = j % 2 == 1
                if is_mono:
                    wd = 0.6 * CAP_SIZE * len(w)
                else:
                    wd = sum(TIMES_W.get(c, 500) for c in w) * CAP_SIZE / 1000
                words.append((w, is_mono, wd))
        ink = sum(w[2] for w in words)
        if i < len(CAPTION_LINES) - 1:
            gap = (CAP_RIGHT - CAP_LEFT - ink) / (len(words) - 1)
        else:
            gap = 0.25 * CAP_SIZE
        xpos = CAP_LEFT
        for w, is_mono, wd in words:
            (mono if is_mono else serif).append((w, xpos, base))
            xpos += wd + gap
    return (pd.DataFrame(serif, columns=["t", "px", "py"]),
            pd.DataFrame(mono, columns=["t", "px", "py"]))


def caption_text(df, font):
    return alt.Chart(df).transform_calculate(
        rx=f"datum.px - {CAP_X0}", ry=f"datum.py - {CAP_Y0}"
    ).mark_text(align="left", baseline="alphabetic", font=font, fontSize=CAP_SIZE,
                color="black").encode(
        x=alt.X("rx:Q", scale=None, axis=None),
        y=alt.Y("ry:Q", scale=None, axis=None),
        text="t:N",
    )


serif_df, mono_df = caption_words()
caption = alt.layer(
    caption_text(serif_df, "Liberation Serif"),
    caption_text(mono_df, "Liberation Mono"),
).properties(width=1860, height=160, view=alt.ViewBackground(stroke="transparent"))

chart = indep(alt.vconcat(row1, row2, caption, spacing=25)).properties(
    padding={"left": 12, "top": 0, "right": 0, "bottom": 0}
).configure_axis(
    labelFont="DejaVu Sans", titleFont="DejaVu Sans",
    labelFontSize=13, titleFontSize=13, titleFontWeight="normal",
    labelColor="black", titleColor="black",
    tickColor="black", domainColor="black", tickSize=4, domainWidth=1.5,
    gridColor="black", gridWidth=0.7, gridDash=[1.5, 1.5], gridOpacity=0.9,
    labelPadding=3, titlePadding=6,
).configure_title(
    font="DejaVu Sans", fontSize=15.5, fontWeight="normal", offset=-3, color="black"
).configure_view(
    stroke="black", strokeWidth=1.5
)

chart.save("out.html", embed_options={"renderer": "svg", "actions": False})
